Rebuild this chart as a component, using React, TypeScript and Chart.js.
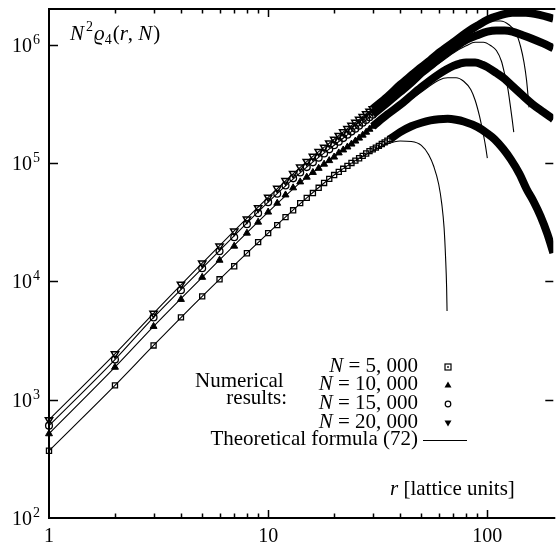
import React, { useEffect, useRef } from 'react';
import { Chart, registerables } from 'chart.js';
Chart.register(...registerables);

// ---------- data ----------
const R_MARK = [1, 2, 3, 4, 5, 6, 7, 8, 9, 10, 11, 12, 13, 14, 15, 16, 17, 18, 19, 20, 21, 22, 23, 24, 25, 26, 27, 28, 29, 30];
const R_MARK_5000 = [...R_MARK, 31, 32, 33, 34, 35, 36];

const MARK_5000 = [370, 1321, 2871, 4955, 7464, 10400, 13400, 17260, 21430, 25530, 29850, 34830, 39800, 45800, 50700, 55700, 61700, 67800, 73450, 79070, 84100, 89300, 94600, 100000, 104700, 109600, 114800, 120200, 125900, 130300, 134900, 139600, 144500, 149300, 154200, 159200];
const MARK_10000 = [515, 1879, 4159, 7031, 10810, 15070, 19820, 25530, 31620, 38460, 45710, 53700, 61660, 69180, 75860, 83180, 90160, 97720, 104700, 112200, 121600, 128800, 136500, 144500, 153100, 162200, 171800, 182000, 192800, 204200];
const MARK_15000 = [603, 2183, 4955, 8395, 12880, 17950, 23600, 30410, 37670, 46670, 54950, 64570, 74130, 83180, 92260, 101200, 110900, 120200, 130300, 141300, 151400, 162200, 173000, 184100, 195000, 206500, 218800, 230700, 243200, 255900];
const MARK_20000 = [676, 2438, 5358, 9441, 14220, 19820, 26550, 33500, 41690, 51290, 60950, 70790, 81280, 92260, 102800, 113500, 124500, 135800, 147200, 158500, 170600, 182800, 195000, 207500, 220300, 233300, 246600, 260000, 273500, 287100];

// dense (merged) markers at large r
const BAND_R_5000 = [36, 40, 45, 50, 55, 60, 66, 72, 78, 90, 100, 108, 118, 128, 140, 151, 163, 175, 188, 200];
const BAND_5000 = [159200, 182000, 204200, 218800, 229100, 234400, 236000, 231700, 223900, 201800, 177800, 158500, 131800, 107200, 81300, 60300, 46800, 35500, 25100, 17400];
const BAND_R_10000 = [30, 35, 40, 45, 50, 55, 60, 65, 70, 75, 80, 88, 95, 100, 110, 120, 130, 145, 160, 180, 200];
const BAND_10000 = [204200, 257000, 309000, 371500, 436500, 501200, 562300, 616600, 660700, 691800, 707900, 707900, 676100, 645700, 575400, 512900, 446700, 371500, 316200, 269200, 234400];
const BAND_R_15000 = [30, 35, 40, 45, 50, 55, 60, 65, 70, 80, 90, 100, 110, 120, 130, 145, 160, 180, 200];
const BAND_15000 = [255900, 323600, 398100, 478600, 575400, 660700, 758600, 851100, 933300, 1096000, 1202000, 1288000, 1318000, 1318000, 1288000, 1202000, 1122000, 1023000, 933300];
const BAND_R_20000 = [30, 35, 40, 45, 50, 55, 60, 70, 80, 90, 100, 115, 130, 150, 175, 200];
const BAND_20000 = [287100, 363100, 457100, 549500, 645700, 741300, 851100, 1047000, 1259000, 1445000, 1622000, 1778000, 1862000, 1862000, 1778000, 1660000];

// theoretical formula (72)
const TH_R_5000 = [1, 2, 3, 5, 10, 15, 20, 25, 30, 35, 40, 45, 50, 54, 57, 60, 62, 63.5, 64.5, 65.2, 65.5];
const TH_5000 = [370, 1321, 2871, 7464, 25530, 50700, 79070, 104700, 126000, 145000, 153500, 152000, 141000, 117500, 93300, 66100, 44700, 28200, 15800, 8900, 5600];
const TH_R_10000 = [1, 2, 3, 5, 10, 15, 20, 25, 30, 40, 50, 60, 66, 72, 78, 84, 88, 92, 95, 98, 100];
const TH_10000 = [515, 1879, 4159, 10810, 38460, 75860, 112200, 153100, 204200, 295000, 398000, 501000, 525000, 525000, 490000, 417000, 339000, 251000, 190500, 141000, 110000];
const TH_R_15000 = [1, 2, 3, 5, 10, 15, 20, 25, 30, 40, 50, 60, 70, 80, 88, 96, 104, 110, 116, 120, 124, 127, 130, 132];
const TH_15000 = [603, 2183, 4955, 12880, 46670, 92260, 141300, 195000, 255900, 390000, 550000, 692000, 851000, 977000, 1047000, 1047000, 977000, 891000, 724000, 562000, 427000, 316000, 229000, 182000];
const TH_R_20000 = [1, 2, 3, 5, 10, 15, 20, 25, 30, 40, 50, 60, 70, 80, 95, 105, 115, 125, 135, 142, 147, 151, 155];
const TH_20000 = [676, 2438, 5358, 14220, 51290, 102800, 158500, 220300, 287100, 450000, 630000, 832000, 1000000, 1230000, 1514000, 1585000, 1585000, 1479000, 1259000, 955000, 708000, 501000, 295000];

// axes
const X_MIN = 1;
const X_MAX = 200;
const Y_MIN = 100;
const Y_MAX = 2000000;
const X_LABEL_VALUES = [1, 10, 100];
const X_LABELS = ['1', '10', '100'];
const Y_EXPONENTS = [2, 3, 4, 5, 6];

const LEGEND_N = ['5, 000', '10, 000', '15, 000', '20, 000'];

// ---------- helpers ----------
const pts = (xs: number[], ys: number[]) => xs.map((x, i) => ({ x, y: ys[i] }));

const SERIF = '"Liberation Serif", "DejaVu Serif", serif';
const F_R = `21px ${SERIF}`;
const F_I = `italic 21px ${SERIF}`;
const F_T = `20px ${SERIF}`;
const F_S = `14px ${SERIF}`;

type Run = { t: string; f: string; dy?: number; dx?: number };

function drawRuns(ctx: CanvasRenderingContext2D, runs: Run[], x: number, y: number, align: 'left' | 'right' | 'center') {
  let total = 0;
  for (const r of runs) {
    ctx.font = r.f;
    total += ctx.measureText(r.t).width + (r.dx || 0);
  }
  let cx = align === 'left' ? x : align === 'right' ? x - total : x - total / 2;
  ctx.textAlign = 'left';
  ctx.textBaseline = 'alphabetic';
  for (const r of runs) {
    ctx.font = r.f;
    cx += r.dx || 0;
    ctx.fillText(r.t, cx, y + (r.dy || 0));
    cx += ctx.measureText(r.t).width;
  }
}

function drawMarker(ctx: CanvasRenderingContext2D, kind: string, x: number, y: number) {
  ctx.save();
  ctx.strokeStyle = '#000';
  ctx.fillStyle = '#000';
  ctx.lineWidth = 1.2;
  if (kind === 'rect') {
    ctx.strokeRect(x - 3, y - 3, 6, 6);
    ctx.fillRect(x - 0.8, y - 0.8, 1.6, 1.6);
  } else if (kind === 'tri') {
    ctx.beginPath();
    ctx.moveTo(x, y - 3.5);
    ctx.lineTo(x + 3.5, y + 2.5);
    ctx.lineTo(x - 3.5, y + 2.5);
    ctx.closePath();
    ctx.fill();
  } else if (kind === 'circ') {
    ctx.beginPath();
    ctx.arc(x, y, 2.8, 0, Math.PI * 2);
    ctx.stroke();
  } else {
    ctx.beginPath();
    ctx.moveTo(x, y + 3.5);
    ctx.lineTo(x + 3.5, y - 2.5);
    ctx.lineTo(x - 3.5, y - 2.5);
    ctx.closePath();
    ctx.fill();
  }
  ctx.restore();
}

const framePlugin = {
  id: 'texFrame',
  beforeDatasetsDraw(chart: any) {
    const { ctx, chartArea: a, scales } = chart;
    const xs = scales.x;
    const ys = scales.y;
    ctx.save();
    ctx.strokeStyle = '#000';
    ctx.lineWidth = 2;
    ctx.beginPath();
    ctx.moveTo(a.right + 2, a.top);
    ctx.lineTo(a.left, a.top);
    ctx.lineTo(a.left, a.bottom);
    ctx.lineTo(a.right + 2, a.bottom);
    ctx.stroke();

    ctx.lineWidth = 1.5;
    ctx.beginPath();
    for (const d of [1, 10, 100]) {
      for (let m = 1; m <= 9; m++) {
        const v = d * m;
        if (v <= X_MIN || v >= X_MAX) continue;
        const px = Math.round(xs.getPixelForValue(v)) + 0.5;
        const len = m === 1 ? 8 : 4.5;
        ctx.moveTo(px, a.bottom);
        ctx.lineTo(px, a.bottom - len);
        ctx.moveTo(px, a.top);
        ctx.lineTo(px, a.top + len);
      }
    }
    for (const e of Y_EXPONENTS) {
      const v = Math.pow(10, e);
      if (v <= Y_MIN) continue;
      const py = Math.round(ys.getPixelForValue(v)) + 0.5;
      ctx.moveTo(a.left, py);
      ctx.lineTo(a.left + 9, py);
      ctx.moveTo(a.right, py);
      ctx.lineTo(a.right - 8, py);
    }
    ctx.stroke();
    ctx.restore();
  },
  afterDraw(chart: any) {
    const { ctx, chartArea: a, scales } = chart;
    const xs = scales.x;
    const ys = scales.y;
    ctx.save();
    ctx.fillStyle = '#000';

    // x tick labels
    X_LABEL_VALUES.forEach((v, i) => {
      const px = xs.getPixelForValue(v);
      drawRuns(ctx, [{ t: X_LABELS[i], f: F_T }], px, a.bottom + 24, 'center');
    });
    // y tick labels
    Y_EXPONENTS.forEach((e) => {
      const py = ys.getPixelForValue(Math.pow(10, e));
      drawRuns(ctx, [{ t: '10', f: F_T }, { t: String(e), f: F_S, dy: -8, dx: 1 }], a.left - 9, py + 7, 'right');
    });

    // axis titles
    drawRuns(ctx, [
      { t: 'N', f: F_I },
      { t: '2', f: F_S, dy: -9, dx: 2 },
      { t: '\u03F1', f: F_I, dx: 1 },
      { t: '4', f: F_S, dy: 4 },
      { t: '(', f: F_R, dx: 1 },
      { t: 'r', f: F_I },
      { t: ', ', f: F_R },
      { t: 'N', f: F_I },
      { t: ')', f: F_R, dx: 1 },
    ], 70, 40, 'left');
    drawRuns(ctx, [{ t: 'r', f: F_I }, { t: ' [lattice units]', f: F_R }], 390, 495, 'left');

    // legend
    const baselines = [372, 390, 409, 428];
    const kinds = ['rect', 'tri', 'circ', 'itri'];
    LEGEND_N.forEach((n, i) => {
      drawRuns(ctx, [{ t: 'N', f: F_I }, { t: ' = ' + n, f: F_R }], 418, baselines[i], 'right');
      drawMarker(ctx, kinds[i], 448, baselines[i] - 5);
    });
    drawRuns(ctx, [{ t: 'Numerical', f: F_R }], 195, 387, 'left');
    drawRuns(ctx, [{ t: 'results:', f: F_R }], 287, 404, 'right');
    drawRuns(ctx, [{ t: 'Theoretical formula (72)', f: F_R }], 418, 445, 'right');
    ctx.strokeStyle = '#000';
    ctx.lineWidth = 1;
    ctx.beginPath();
    ctx.moveTo(423, 440.5);
    ctx.lineTo(467, 440.5);
    ctx.stroke();
    ctx.restore();
  },
};

export default function App() {
  const ref = useRef<HTMLCanvasElement | null>(null);
  useEffect(() => {
    if (!ref.current) return;
    const theory = (xs: number[], ys: number[]) => ({
      type: 'line' as const,
      data: pts(xs, ys),
      borderColor: '#000',
      borderWidth: 1.1,
      pointRadius: 0,
      fill: false,
      cubicInterpolationMode: 'monotone' as const,
      clip: 0,
      order: 3,
    });
    const band = (xs: number[], ys: number[]) => ({
      type: 'line' as const,
      data: pts(xs, ys),
      borderColor: '#000',
      borderWidth: 8,
      pointRadius: 0,
      fill: false,
      cubicInterpolationMode: 'monotone' as const,
      clip: 0,
      order: 2,
    });
    const marks = (xs: number[], ys: number[], style: string, filled: boolean, rot: number, radius: number, bw: number) => ({
      type: 'line' as const,
      data: pts(xs, ys),
      showLine: false,
      pointStyle: style,
      pointRotation: rot,
      pointRadius: radius,
      pointBorderWidth: bw,
      pointBorderColor: '#000',
      pointBackgroundColor: filled ? '#000' : 'rgba(0,0,0,0)',
      clip: false,
      order: 1,
    });
    const chart = new Chart(ref.current, {
      type: 'line',
      data: {
        datasets: [
          theory(TH_R_5000, TH_5000),
          theory(TH_R_10000, TH_10000),
          theory(TH_R_15000, TH_15000),
          theory(TH_R_20000, TH_20000),
          band(BAND_R_5000, BAND_5000),
          band(BAND_R_10000, BAND_10000),
          band(BAND_R_15000, BAND_15000),
          band(BAND_R_20000, BAND_20000),
          marks(R_MARK_5000, MARK_5000, 'rect', false, 0, 3.6, 1.3),
          marks(R_MARK, MARK_10000, 'triangle', true, 0, 4, 1),
          marks(R_MARK, MARK_15000, 'circle', false, 0, 3.4, 1.3),
          marks(R_MARK, MARK_20000, 'triangle', false, 180, 4.2, 1.5),
        ] as any,
      },
      options: {
        responsive: false,
        animation: false,
        events: [],
        layout: { padding: { left: 49, top: 9, right: 0, bottom: 28 } },
        plugins: { legend: { display: false }, tooltip: { enabled: false } },
        scales: {
          x: { type: 'logarithmic', min: X_MIN, max: X_MAX, display: false },
          y: { type: 'logarithmic', min: Y_MIN, max: Y_MAX, display: false },
        },
      },
      plugins: [framePlugin],
    });
    return () => chart.destroy();
  }, []);
  return (
    <div style={{ position: 'absolute', left: 0, top: 0, width: 559, height: 546, background: '#fff' }}>
      <canvas ref={ref} width={559} height={546} style={{ display: 'block', width: 559, height: 546 }} />
    </div>
  );
}
